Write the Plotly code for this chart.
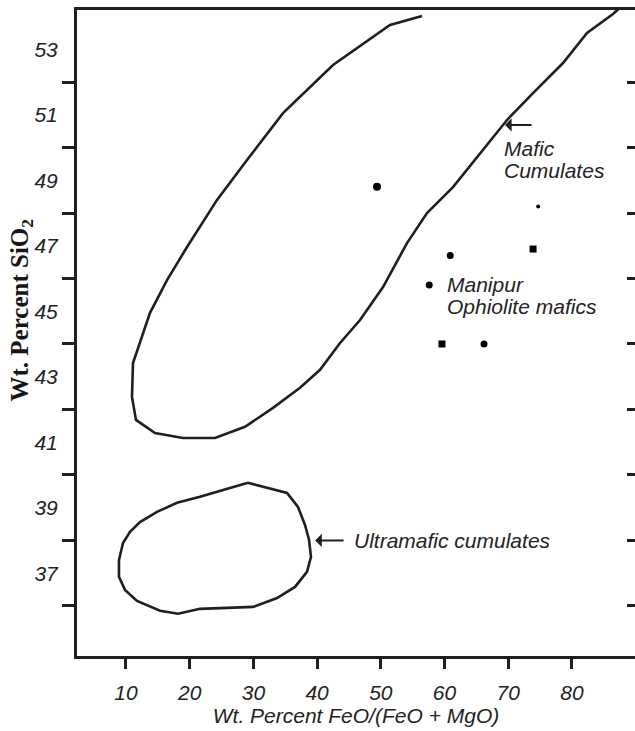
import plotly.graph_objects as go

# Mafic cumulates field (open band, runs off the top of the diagram)
mafic_x = [56.47, 51.44, 42.50, 37.32, 34.65, 29.00, 24.29, 19.58, 16.44, 13.77,
           11.73, 11.10, 10.94, 11.57, 14.55, 18.95, 23.97, 28.68, 33.08, 37.32,
           40.46, 43.60, 46.74, 50.35, 54.11, 57.25, 61.33, 65.57, 69.81, 73.89,
           78.60, 82.37, 86.45, 88.33]
mafic_y = [54.02, 53.74, 52.52, 51.54, 51.05, 49.62, 48.40, 46.96, 45.95, 44.95,
           43.82, 43.42, 42.38, 41.68, 41.28, 41.13, 41.13, 41.47, 42.05, 42.66,
           43.21, 44.03, 44.73, 45.74, 47.08, 48.00, 48.79, 49.83, 50.84, 51.66,
           52.58, 53.50, 54.08, 54.41]

# Ultramafic cumulates field (closed loop)
ultra_x = [29.15, 35.28, 37.00, 38.10, 38.73, 39.04, 38.41, 36.53, 33.71, 29.94,
           25.86, 21.62, 18.17, 15.34, 11.73, 9.84, 8.90, 8.90, 9.53, 10.63,
           12.20, 14.87, 18.01, 21.62, 25.24, 29.15]
ultra_y = [39.76, 39.45, 39.02, 38.47, 38.02, 37.50, 37.04, 36.58, 36.24, 35.97,
           35.94, 35.91, 35.76, 35.85, 36.15, 36.49, 36.89, 37.40, 37.92, 38.26,
           38.56, 38.87, 39.15, 39.33, 39.54, 39.76]

# Manipur ophiolite mafic samples
sample_x = [49.4, 74.7, 73.9, 60.9, 57.6, 59.6, 66.2]
sample_y = [48.8, 48.2, 46.9, 46.7, 45.8, 44.0, 44.0]
sample_size = [8, 4, 7, 7, 7, 7, 7]
sample_symbol = ["circle", "circle", "square", "circle", "circle", "square", "circle"]

x_ticks = [10, 20, 30, 40, 50, 60, 70, 80]
y_labels = [37, 39, 41, 43, 45, 47, 49, 51, 53]
y_marks = [36, 38, 40, 42, 44, 46, 48, 50, 52]

x_range = [2.31, 89.9]
y_range = [34.47, 54.2]

INK = "#1f1f1f"
TEXT = "#232323"
SANS = "Liberation Sans, Arial, sans-serif"
SERIF = "Liberation Serif, Times New Roman, serif"

fig = go.Figure()
fig.add_trace(go.Scatter(x=mafic_x, y=mafic_y, mode="lines",
                         line=dict(color=INK, width=2.6), showlegend=False,
                         hoverinfo="skip"))
fig.add_trace(go.Scatter(x=ultra_x, y=ultra_y, mode="lines",
                         line=dict(color=INK, width=2.6), showlegend=False,
                         hoverinfo="skip"))
fig.add_trace(go.Scatter(x=sample_x, y=sample_y, mode="markers",
                         marker=dict(color="#000000", size=sample_size,
                                     symbol=sample_symbol, opacity=1,
                                     line=dict(width=0)),
                         showlegend=False))
# carrier for the right-hand tick marks
fig.add_trace(go.Scatter(x=[None], y=[None], yaxis="y2", showlegend=False,
                         hoverinfo="skip"))

LABEL_FONT = dict(family=SANS, size=21, color=TEXT, style="italic")


def label(text, x, y):
    fig.add_annotation(x=x, y=y, text=text, showarrow=False, xanchor="left",
                       yanchor="middle", font=LABEL_FONT)


label("Mafic", 69.0, 49.98)
label("Cumulates", 69.0, 49.31)
fig.add_annotation(x=69.5, y=50.69, ax=73.9, ay=50.69, axref="x", ayref="y",
                   text="", showarrow=True, arrowhead=1, arrowsize=1.1,
                   arrowwidth=2, arrowcolor=INK)
label("Manipur", 60.1, 45.83)
label("Ophiolite mafics", 60.1, 45.13)
# label with its arrow pointing back at the ultramafic field
fig.add_annotation(x=39.7, y=38.0, ax=45.4, ay=38.0, axref="x", ayref="y",
                   text="Ultramafic cumulates", xanchor="left",
                   yanchor="middle", font=LABEL_FONT, showarrow=True,
                   arrowhead=1, arrowsize=1.1, arrowwidth=2, arrowcolor=INK,
                   startstandoff=8)

# y-axis title, set a little above the axis midpoint
fig.add_annotation(xref="paper", yref="paper", x=-0.099, y=0.536,
                   text="<b>Wt. Percent SiO<sub>2</sub></b>", textangle=-90,
                   showarrow=False, xanchor="center", yanchor="middle",
                   font=dict(family=SERIF, size=25, color="#161616"))

fig.update_layout(
    width=635, height=731,
    margin=dict(l=77, r=0, t=10, b=75),
    paper_bgcolor="white", plot_bgcolor="white",
    xaxis=dict(
        range=x_range, tickvals=x_ticks, ticks="outside", ticklen=10,
        tickwidth=2.5, tickcolor=INK, showline=True, linewidth=3,
        linecolor=INK, mirror=True, showgrid=False, zeroline=False,
        ticklabelstandoff=6,
        tickfont=dict(family=SANS, size=21, color=TEXT, style="italic"),
        title=dict(text="Wt. Percent FeO/(FeO + MgO)", standoff=3,
                   font=dict(family=SANS, size=21, color=TEXT,
                             style="italic")),
    ),
    yaxis=dict(
        range=y_range, tickvals=y_labels, ticks="", showline=True,
        linewidth=3, linecolor=INK, mirror=False, showgrid=False,
        zeroline=False, ticklabelstandoff=12,
        minor=dict(tickvals=y_marks, ticks="outside", ticklen=12,
                   tickwidth=2.5, tickcolor=INK, showgrid=False),
        tickfont=dict(family=SANS, size=21, color=TEXT, style="italic"),
    ),
    yaxis2=dict(
        range=y_range, overlaying="y", side="right", anchor="x",
        tickvals=y_marks, ticks="inside", ticklen=8, tickwidth=2.5,
        tickcolor=INK, showticklabels=False, showline=False,
        showgrid=False, zeroline=False,
    ),
)

fig.write_html("out.html")
